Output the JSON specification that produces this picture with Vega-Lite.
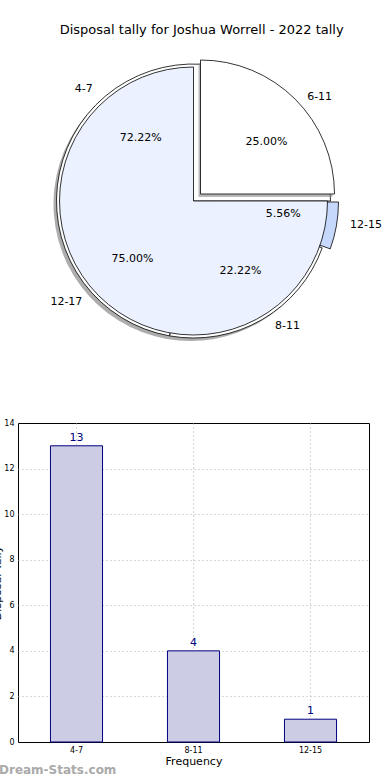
{
  "$schema": "https://vega.github.io/schema/vega-lite/v6.json",
  "padding": {"left": -9, "top": 24, "right": 0, "bottom": 0},
  "title": {"text": "Disposal tally for Joshua Worrell - 2022 tally", "fontSize": 13, "fontWeight": "normal", "color": "black", "anchor": "middle", "offset": 4, "dx": 15},
  "config": {
    "font": "DejaVu Sans",
    "view": {"stroke": "black", "strokeWidth": 1},
    "text": {"fontSize": 11, "color": "black"}
  },
  "datasets": {
    "pieA": [
      {"label": "6-11", "pct": 0.25, "idx": 1},
      {"label": "12-17", "pct": 0.75, "idx": 2}
    ],
    "pieB": [
      {"label": "4-7", "pct": 0.7222, "idx": 1},
      {"label": "8-11", "pct": 0.2222, "idx": 2},
      {"label": "12-15", "pct": 0.0556, "idx": 3}
    ],
    "bars": [
      {"range": "4-7", "count": 13},
      {"range": "8-11", "count": 4},
      {"range": "12-15", "count": 1}
    ]
  },
  "spacing": 57,
  "vconcat": [
    {
      "width": 351,
      "height": 320,
      "view": {"stroke": null},
      "layer": [
        {
          "data": {"name": "pieB"},
          "mark": {"type": "arc", "radius": 137, "fill": "#777777", "fillOpacity": 0.6, "xOffset": -3, "yOffset": 3},
          "encoding": {
            "theta": {"field": "pct", "type": "quantitative", "stack": true, "scale": {"domain": [0, 1], "range": [1.5708, -4.7124]}},
            "order": {"field": "idx"}
          }
        },
        {
          "data": {"name": "pieB"},
          "mark": {"type": "arc", "radius": 137, "stroke": "black", "strokeWidth": 0.8},
          "encoding": {
            "theta": {"field": "pct", "type": "quantitative", "stack": true},
            "order": {"field": "idx"},
            "fill": {"field": "label", "type": "nominal", "scale": {"domain": ["4-7", "8-11", "12-15"], "range": ["#ffffff", "#ffffff", "#c6d8fc"]}, "legend": null},
            "fillOpacity": {"condition": {"test": "datum.label == '12-15'", "value": 0}, "value": 1},
            "strokeOpacity": {"condition": {"test": "datum.label == '12-15'", "value": 0}, "value": 1}
          }
        },
        {
          "data": {"name": "pieB"},
          "mark": {"type": "arc", "radius": 137, "stroke": "black", "strokeWidth": 0.8, "xOffset": 8, "yOffset": 1},
          "encoding": {
            "theta": {"field": "pct", "type": "quantitative", "stack": true},
            "order": {"field": "idx"},
            "fill": {"field": "label", "type": "nominal", "legend": null},
            "fillOpacity": {"condition": {"test": "datum.label == '12-15'", "value": 1}, "value": 0},
            "strokeOpacity": {"condition": {"test": "datum.label == '12-15'", "value": 1}, "value": 0}
          }
        },
        {
          "data": {"name": "pieA"},
          "mark": {"type": "arc", "radius": 134, "stroke": "black", "strokeWidth": 0.8},
          "encoding": {
            "theta": {"field": "pct", "type": "quantitative", "stack": true},
            "order": {"field": "idx"},
            "color": {"field": "label", "type": "nominal", "scale": {"domain": ["6-11", "12-17"], "range": ["#ffffff", "#ebf1fe"]}, "legend": null},
            "fillOpacity": {"condition": {"test": "datum.label == '6-11'", "value": 0}, "value": 1},
            "strokeOpacity": {"condition": {"test": "datum.label == '6-11'", "value": 0}, "value": 1}
          }
        },
        {
          "data": {"name": "pieA"},
          "mark": {"type": "arc", "radius": 134, "fill": "#888888", "fillOpacity": 0.6, "xOffset": 5, "yOffset": -4},
          "encoding": {
            "theta": {"field": "pct", "type": "quantitative", "stack": true},
            "order": {"field": "idx"},
            "opacity": {"condition": {"test": "datum.label == '6-11'", "value": 1}, "value": 0}
          }
        },
        {
          "data": {"name": "pieA"},
          "mark": {"type": "arc", "radius": 134, "stroke": "black", "strokeWidth": 0.8, "xOffset": 7, "yOffset": -7},
          "encoding": {
            "theta": {"field": "pct", "type": "quantitative", "stack": true},
            "order": {"field": "idx"},
            "color": {"field": "label", "type": "nominal", "legend": null},
            "stroke": {"value": "black"},
            "opacity": {"condition": {"test": "datum.label == '6-11'", "value": 1}, "value": 0}
          }
        },
        {
          "data": {"name": "pieA"},
          "mark": {"type": "text", "radius": 82, "xOffset": 15, "yOffset": -1},
          "encoding": {
            "theta": {"field": "pct", "type": "quantitative", "stack": true},
            "order": {"field": "idx"},
            "text": {"field": "pct", "type": "quantitative", "format": ".2%"},
            "opacity": {"condition": {"test": "datum.label == '6-11'", "value": 1}, "value": 0}
          }
        },
        {
          "data": {"name": "pieA"},
          "mark": {"type": "text", "radius": 82, "xOffset": -3, "yOffset": 0},
          "encoding": {
            "theta": {"field": "pct", "type": "quantitative", "stack": true},
            "order": {"field": "idx"},
            "text": {"field": "pct", "type": "quantitative", "format": ".2%"},
            "opacity": {"condition": {"test": "datum.label == '12-17'", "value": 1}, "value": 0}
          }
        },
        {
          "data": {"name": "pieA"},
          "mark": {"type": "text", "radius": 160, "xOffset": 13, "yOffset": 9},
          "encoding": {
            "theta": {"field": "pct", "type": "quantitative", "stack": true},
            "order": {"field": "idx"},
            "text": {"field": "label", "type": "nominal"},
            "opacity": {"condition": {"test": "datum.label == '6-11'", "value": 1}, "value": 0}
          }
        },
        {
          "data": {"name": "pieA"},
          "mark": {"type": "text", "radius": 160, "xOffset": -14, "yOffset": -12},
          "encoding": {
            "theta": {"field": "pct", "type": "quantitative", "stack": true},
            "order": {"field": "idx"},
            "text": {"field": "label", "type": "nominal"},
            "opacity": {"condition": {"test": "datum.label == '12-17'", "value": 1}, "value": 0}
          }
        },
        {
          "data": {"name": "pieB"},
          "mark": {"type": "text", "radius": 82},
          "encoding": {
            "theta": {"field": "pct", "type": "quantitative", "stack": true},
            "order": {"field": "idx"},
            "text": {"field": "pct", "type": "quantitative", "format": ".2%"},
            "opacity": {"condition": {"test": "datum.label == '4-7'", "value": 1}, "value": 0}
          }
        },
        {
          "data": {"name": "pieB"},
          "mark": {"type": "text", "radius": 82, "xOffset": 6, "yOffset": -1},
          "encoding": {
            "theta": {"field": "pct", "type": "quantitative", "stack": true},
            "order": {"field": "idx"},
            "text": {"field": "pct", "type": "quantitative", "format": ".2%"},
            "opacity": {"condition": {"test": "datum.label == '8-11'", "value": 1}, "value": 0}
          }
        },
        {
          "data": {"name": "pieB"},
          "mark": {"type": "text", "radius": 82, "xOffset": 9, "yOffset": -1},
          "encoding": {
            "theta": {"field": "pct", "type": "quantitative", "stack": true},
            "order": {"field": "idx"},
            "text": {"field": "pct", "type": "quantitative", "format": ".2%"},
            "opacity": {"condition": {"test": "datum.label == '12-15'", "value": 1}, "value": 0}
          }
        },
        {
          "data": {"name": "pieB"},
          "mark": {"type": "text", "radius": 160, "xOffset": -7, "yOffset": 11},
          "encoding": {
            "theta": {"field": "pct", "type": "quantitative", "stack": true},
            "order": {"field": "idx"},
            "text": {"field": "label", "type": "nominal"},
            "opacity": {"condition": {"test": "datum.label == '4-7'", "value": 1}, "value": 0}
          }
        },
        {
          "data": {"name": "pieB"},
          "mark": {"type": "text", "radius": 160, "xOffset": 14, "yOffset": -14},
          "encoding": {
            "theta": {"field": "pct", "type": "quantitative", "stack": true},
            "order": {"field": "idx"},
            "text": {"field": "label", "type": "nominal"},
            "opacity": {"condition": {"test": "datum.label == '8-11'", "value": 1}, "value": 0}
          }
        },
        {
          "data": {"name": "pieB"},
          "mark": {"type": "text", "radius": 160, "xOffset": 15, "yOffset": -4},
          "encoding": {
            "theta": {"field": "pct", "type": "quantitative", "stack": true},
            "order": {"field": "idx"},
            "text": {"field": "label", "type": "nominal"},
            "opacity": {"condition": {"test": "datum.label == '12-15'", "value": 1}, "value": 0}
          }
        }
      ]
    },
    {
      "width": 351,
      "height": 319,
      "data": {"name": "bars"},
      "title": {"text": "Dream-Stats.com", "orient": "bottom", "anchor": "start", "frame": "group", "dx": -19, "offset": -1, "fontSize": 12, "fontWeight": "bold", "color": "#aaaaaa"},
      "encoding": {
        "x": {"field": "range", "type": "ordinal", "sort": null, "scale": {"paddingInner": 0, "paddingOuter": 0},
          "axis": {"title": "Frequency", "titleFontSize": 11, "titleFontWeight": "normal", "titlePadding": 1, "labelFontSize": 8, "labelAngle": 0, "labelPadding": 4, "ticks": false, "domain": false, "grid": true, "gridColor": "#b0b0b0", "gridDash": [1, 3]}},
        "y": {"field": "count", "type": "quantitative", "scale": {"domain": [0, 14]},
          "axis": {"title": "Disposal Tally", "titleFontSize": 11, "titleFontWeight": "normal", "titlePadding": 1, "values": [0, 2, 4, 6, 8, 10, 12, 14], "labelFontSize": 8, "labelPadding": 4, "ticks": false, "domain": false, "grid": true, "gridColor": "#b0b0b0", "gridDash": [1, 3],
            "gridOpacity": {"condition": {"test": "datum.value == 14 || datum.value == 0", "value": 0}, "value": 1}}}
      },
      "layer": [
        {
          "mark": {"type": "bar", "width": {"band": 0.445}, "fill": "#ccccE5", "stroke": "#000080", "strokeWidth": 1}
        },
        {
          "mark": {"type": "text", "baseline": "bottom", "dy": -3, "fontSize": 11, "color": "#000080"},
          "encoding": {"text": {"field": "count", "type": "quantitative"}}
        }
      ]
    }
  ]
}
